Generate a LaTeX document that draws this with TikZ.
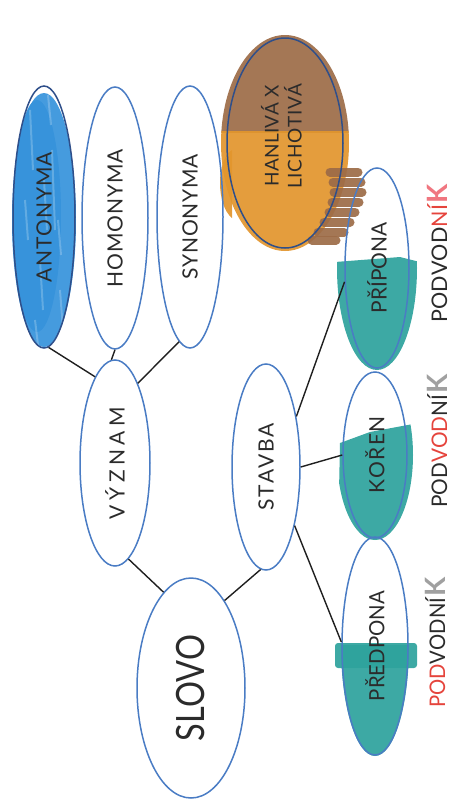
\documentclass[tikz,border=0pt]{standalone}
\usepackage{fontspec}
\setmainfont{Lato}
\usepackage{graphicx}
\usetikzlibrary{shapes.geometric}
\definecolor{ol}{HTML}{4A7CC4}
\definecolor{oldark}{HTML}{2F4F8A}
\definecolor{txt}{HTML}{2B2B2B}
\definecolor{crblue}{HTML}{3592DB}
\definecolor{crteal}{HTML}{2DA29C}
\definecolor{crbrown}{HTML}{9C6B47}
\definecolor{crorange}{HTML}{E2952C}
\definecolor{pred}{HTML}{E5443C}
\definecolor{kpink}{HTML}{F07680}
\definecolor{kgray}{HTML}{A0A0A0}
\newcommand{\myrot}[1]{\rotatebox{90}{#1}}
\newsavebox{\fitbox}
\newcommand{\fitw}[2]{\sbox{\fitbox}{#2}\ifdim\wd\fitbox>#1\relax\resizebox{#1}{\height}{\usebox{\fitbox}}\else\makebox[#1][s]{#2}\fi}
\newcommand{\bigK}[1]{\hspace{1.5pt}{\fontsize{28}{28}\selectfont\bfseries\textcolor{#1}{K}}}
\begin{document}
\begin{tikzpicture}[x=1pt,y=-1pt,
  bub/.style={ellipse,draw=ol,line width=1.5pt,inner sep=0pt,text=txt,font=\fontsize{21}{23}\selectfont},
  link/.style={line width=1.4pt,black!88},
  word/.style={inner sep=0pt,text=txt,font=\fontsize{21.5}{23}\selectfont},
  crayon/.style={opacity=0.92}]
\useasboundingbox (0,0) rectangle (462,809);

% ---- crayon fills ----
% ANTONYMA blue
\fill[crblue,crayon] (44,220) ellipse [x radius=32pt, y radius=127pt];
\fill[crblue,crayon] (37,216) ellipse [x radius=24pt, y radius=116pt];
\begin{scope}
  \clip (44,217) ellipse [x radius=32pt, y radius=131pt];
  \foreach \xx/\yy/\ll in {30/110/60,52/150/80,40/260/50,60/290/40,25/200/40,48/95/30,35/320/25,44/180/50,58/220/35}
    \draw[white,opacity=0.22,line width=2pt] (\xx,\yy) -- (\xx+3,\yy+\ll);
\end{scope}
% HANLIVA brown/orange
\begin{scope}
  \clip (285,143) ellipse [x radius=64pt, y radius=108pt];
  \fill[crbrown,crayon] (215,30) rectangle (362,133);
  \fill[crorange,crayon] (215,131) rectangle (362,256);
\end{scope}
\foreach \yy/\xa/\xb in {172/330/358,182/333/361,192/334/362,202/332/359,212/329/355,222/324/350,232/318/344,240/312/336}
  \draw[crbrown,crayon,line width=9pt,line cap=round] (\xa,\yy) -- (\xb,\yy);
\fill[crorange,crayon] (232,150) .. controls (216,160) and (216,205) .. (232,218) -- cycle;
% teal fills
\begin{scope}
  \clip (377,268) ellipse [x radius=40pt, y radius=102pt];
  \fill[crteal,crayon] (335,262) -- (400,257) -- (420,262) -- (420,372) -- (335,372) -- cycle;
\end{scope}
\begin{scope}
  \clip (375,455) ellipse [x radius=38pt, y radius=85pt];
  \fill[crteal,crayon] (340,443) -- (370,432) -- (413,424) -- (414,540) -- (338,540) -- cycle;
\end{scope}
\begin{scope}
  \clip (375,646) ellipse [x radius=34pt, y radius=110pt];
  \fill[crteal,crayon] (338,645) rectangle (414,760);
\end{scope}
\fill[crteal,crayon,rounded corners=3pt] (335,643) rectangle (417,668);

% ---- nodes ----
\node[bub,draw=oldark,minimum width=62pt,minimum height=262pt] (ant) at (44,217) {\myrot{\fitw{130pt}{A\hfill N\hfill T\hfill O\hfill N\hfill Y\hfill M\hfill A}}};
\node[bub,minimum width=66pt,minimum height=262pt] (hom) at (115,218) {\myrot{\fitw{138pt}{H\hfill O\hfill M\hfill O\hfill N\hfill Y\hfill M\hfill A}}};
\node[bub,minimum width=66pt,minimum height=262pt] (syn) at (190,217) {\myrot{\fitw{125pt}{S\hfill Y\hfill N\hfill O\hfill N\hfill Y\hfill M\hfill A}}};
\node[bub,minimum width=116pt,minimum height=210pt,draw=oldark,font=\fontsize{19}{26}\selectfont] (han) at (285,143) {\myrot{\hspace*{14pt}\begin{tabular}{@{}c@{}}\fitw{101pt}{H\hfill A\hfill N\hfill L\hfill I\hfill V\hfill Á\hfill\hspace{4pt}\hfill X}\\[-3pt]\fitw{105pt}{L\hfill I\hfill C\hfill H\hfill O\hfill T\hfill I\hfill V\hfill Á}\end{tabular}}};
\node[bub,minimum width=70pt,minimum height=206pt] (vyz) at (115,463) {\myrot{\fitw{112pt}{V\hfill Ý\hfill Z\hfill N\hfill A\hfill M}}};
\node[bub,minimum width=68pt,minimum height=206pt] (stavba) at (266,467) {\myrot{\fitw{87pt}{S\hfill T\hfill A\hfill V\hfill B\hfill A}}};
\node[bub,minimum width=108pt,minimum height=220pt,font=\fontsize{39}{40}\selectfont] (slovo) at (191,688) {\myrot{\resizebox{106pt}{\height}{SLOVO}}};
\node[bub,minimum width=64pt,minimum height=200pt] (pri) at (377,268) {\myrot{\fitw{91pt}{P\hfill Ř\hfill Í\hfill P\hfill O\hfill N\hfill A}}};
\node[bub,minimum width=64pt,minimum height=166pt] (koren) at (375,455) {\myrot{\fitw{77pt}{K\hfill O\hfill Ř\hfill E\hfill N}}};
\node[bub,minimum width=66pt,minimum height=218pt] (pred) at (375,646) {\myrot{\fitw{110pt}{P\hfill Ř\hfill E\hfill D\hfill P\hfill O\hfill N\hfill A}}};

% ---- connectors ----
\draw[link] (ant.-88) -- (vyz.103);
\draw[link] (hom.-90) -- (vyz.92);
\draw[link] (syn.-95) -- (vyz.74);
\draw[link] (vyz.-82) -- (slovo.106);
\draw[link] (stavba.-93) -- (slovo.69);
\draw[link] (stavba.59) -- (pri.-157);
\draw[link] (stavba.0) -- (koren.180);
\draw[link] (stavba.-64) -- (pred.173);

% ---- PODVODNIK labels ----
\node[word,rotate=90,anchor=base west] (p1) at (447,323) {\fitw{118pt}{P\hfill O\hfill D\hfill V\hfill O\hfill D\hfill\textcolor{pred}{N}\hfill\textcolor{pred}{Í}}\bigK{kpink}};
\node[word,rotate=90,anchor=base west] (p2) at (447,508) {\fitw{113pt}{P\hfill O\hfill D\hfill\textcolor{pred}{V}\hfill\textcolor{pred}{O}\hfill\textcolor{pred}{D}\hfill N\hfill Í}\bigK{kgray}};
\node[word,rotate=90,anchor=base west] (p3) at (445,708) {\fitw{110pt}{\textcolor{pred}{P}\hfill\textcolor{pred}{O}\hfill\textcolor{pred}{D}\hfill V\hfill O\hfill D\hfill N\hfill Í}\bigK{kgray}};
\end{tikzpicture}
\end{document}
